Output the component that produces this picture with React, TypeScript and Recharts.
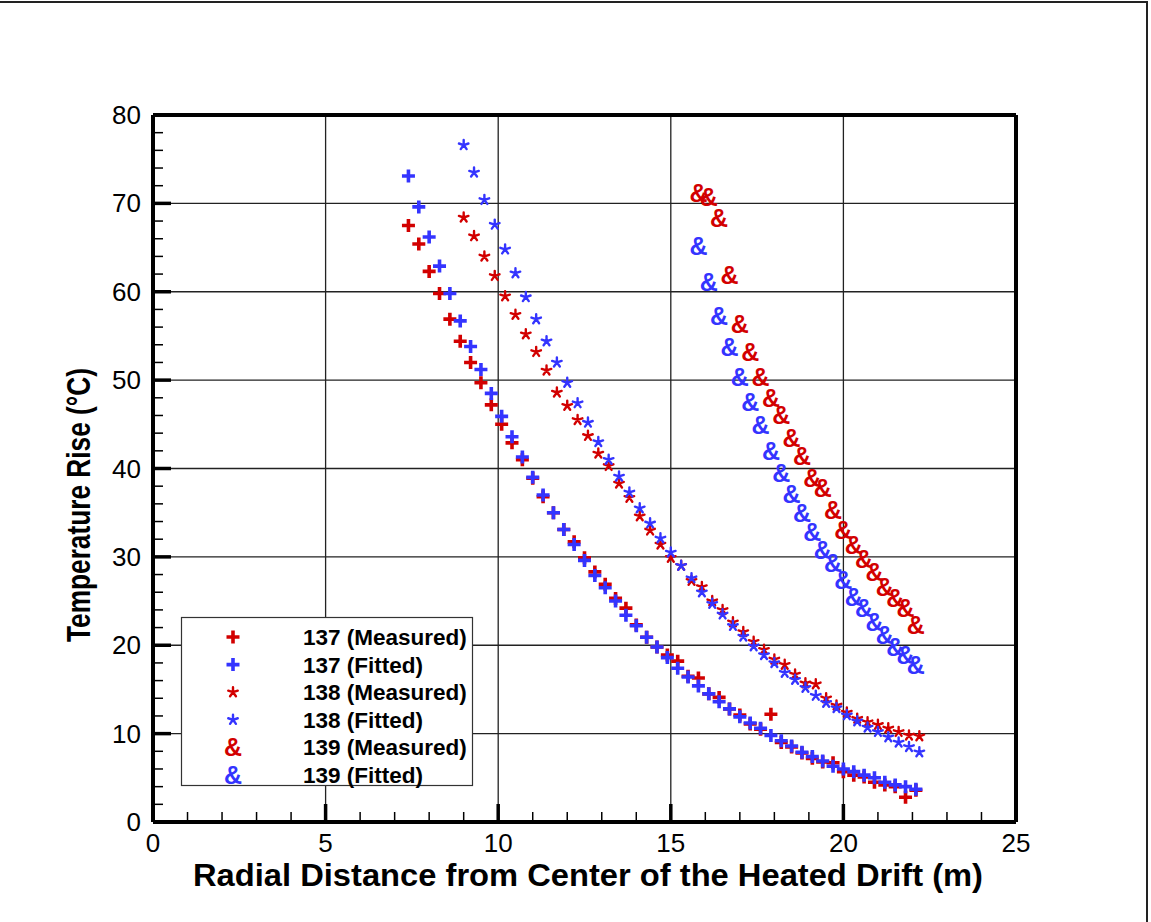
import React from 'react';
import {
  ScatterChart,
  Scatter,
  XAxis,
  YAxis,
  ReferenceLine,
  Legend,
  Label,
} from 'recharts';

const FONT = '"Liberation Sans", Arial, Helvetica, sans-serif';
const RED = '#d20000';
const BLUE = '#3434ff';

// x positions (m)
const xPlus = [
  7.4, 7.7, 8.0, 8.3, 8.6, 8.9, 9.2, 9.5, 9.8, 10.1, 10.4, 10.7, 11.0, 11.3, 11.6, 11.9, 12.2,
  12.5, 12.8, 13.1, 13.4, 13.7, 14.0, 14.3, 14.6, 14.9, 15.2, 15.5, 15.8, 16.1, 16.4, 16.7,
  17.0, 17.3, 17.6, 17.9, 18.2, 18.5, 18.8, 19.1, 19.4, 19.7, 20.0, 20.3, 20.6, 20.9, 21.2,
  21.5, 21.8, 22.1,
];
const xStar = [
  9.0, 9.3, 9.6, 9.9, 10.2, 10.5, 10.8, 11.1, 11.4, 11.7, 12.0, 12.3, 12.6, 12.9, 13.2, 13.5,
  13.8, 14.1, 14.4, 14.7, 15.0, 15.3, 15.6, 15.9, 16.2, 16.5, 16.8, 17.1, 17.4, 17.7, 18.0,
  18.3, 18.6, 18.9, 19.2, 19.5, 19.8, 20.1, 20.4, 20.7, 21.0, 21.3, 21.6, 21.9, 22.2,
];
const xAmp = [
  15.8, 16.1, 16.4, 16.7, 17.0, 17.3, 17.6, 17.9, 18.2, 18.5, 18.8, 19.1, 19.4, 19.7, 20.0,
  20.3, 20.6, 20.9, 21.2, 21.5, 21.8, 22.1,
];

// temperature rise (C)
const measured137 = [
  67.5, 65.4, 62.3, 59.8, 56.9, 54.4, 52.0, 49.7, 47.2, 45.0,
  42.9, 41.0, 38.9, 36.8, 35.0, 33.1, 31.7, 29.9, 28.3, 26.9,
  25.3, 24.2, 22.3, 20.9, 19.8, 18.9, 18.2, 16.5, 16.3, 14.5,
  14.1, 12.8, 12.1, 11.1, 10.5, 12.2, 9.0, 8.5, 7.8, 7.2,
  6.8, 6.7, 5.7, 5.3, 5.1, 4.5, 4.2, 4.0, 2.8, 3.6,
];
const fitted137 = [
  73.1, 69.6, 66.2, 62.9, 59.8, 56.7, 53.8, 51.2, 48.5, 45.9,
  43.6, 41.3, 39.0, 37.0, 35.0, 33.1, 31.4, 29.6, 27.9, 26.5,
  25.0, 23.4, 22.2, 20.9, 19.8, 18.6, 17.4, 16.4, 15.4, 14.5,
  13.6, 12.8, 11.9, 11.2, 10.6, 9.8, 9.2, 8.6, 7.9, 7.4,
  6.9, 6.3, 6.0, 5.7, 5.3, 5.0, 4.5, 4.2, 4.0, 3.7,
];
const measured138 = [
  68.4, 66.3, 64.0, 61.8, 59.5, 57.4, 55.2, 53.2, 51.1, 48.6,
  47.1, 45.5, 43.7, 41.7, 40.3, 38.3, 36.7, 34.6, 33.0, 31.4,
  29.9, 29.0, 27.3, 26.6, 25.0, 24.0, 22.6, 21.5, 20.4, 19.5,
  18.4, 17.8, 16.7, 15.7, 15.6, 14.0, 13.2, 12.4, 11.7, 11.3,
  11.0, 10.6, 10.2, 9.8, 9.7,
];
const fitted138 = [
  76.6, 73.5, 70.4, 67.6, 64.8, 62.1, 59.4, 56.9, 54.4, 52.0,
  49.7, 47.4, 45.2, 43.0, 41.0, 39.1, 37.3, 35.5, 33.8, 32.1,
  30.5, 29.0, 27.6, 26.0, 24.7, 23.5, 22.2, 21.0, 19.9, 18.9,
  18.0, 16.9, 16.1, 15.2, 14.3, 13.5, 12.9, 12.1, 11.4, 10.7,
  10.2, 9.6, 9.0, 8.5, 7.9,
];
const measured139 = [
  71.2, 70.7, 68.3, 61.9, 56.4, 53.2, 50.3, 48.0, 46.0, 43.4, 41.4,
  38.9, 37.8, 35.3, 33.0, 31.3, 29.8, 28.3, 26.6, 25.3, 24.2, 22.3,
];
const fitted139 = [
  65.2, 61.1, 57.2, 53.7, 50.3, 47.5, 44.9, 42.0, 39.5, 37.1, 35.0,
  32.8, 30.8, 29.3, 27.4, 25.5, 24.2, 22.6, 21.2, 19.8, 18.9, 17.8,
];

const xTicks = [0, 1, 2, 3, 4, 5, 6, 7, 8, 9, 10, 11, 12, 13, 14, 15, 16, 17, 18, 19, 20, 21, 22, 23, 24, 25];
const yTicks = [0, 2, 4, 6, 8, 10, 12, 14, 16, 18, 20, 22, 24, 26, 28, 30, 32, 34, 36, 38, 40, 42, 44, 46, 48, 50, 52, 54, 56, 58, 60, 62, 64, 66, 68, 70, 72, 74, 76, 78, 80];
const xGrid = [5, 10, 15, 20];
const yGrid = [10, 20, 30, 40, 50, 60, 70];

const toPoints = (xs: number[], ys: number[]) => ys.map((y, i) => ({ x: xs[i], y }));

type Kind = 'plus' | 'star' | 'amp';

const series: { name: string; kind: Kind; color: string; data: { x: number; y: number }[] }[] = [
  { name: '137 (Measured)', kind: 'plus', color: RED, data: toPoints(xPlus, measured137) },
  { name: '137 (Fitted)', kind: 'plus', color: BLUE, data: toPoints(xPlus, fitted137) },
  { name: '138 (Measured)', kind: 'star', color: RED, data: toPoints(xStar, measured138) },
  { name: '138 (Fitted)', kind: 'star', color: BLUE, data: toPoints(xStar, fitted138) },
  { name: '139 (Measured)', kind: 'amp', color: RED, data: toPoints(xAmp, measured139) },
  { name: '139 (Fitted)', kind: 'amp', color: BLUE, data: toPoints(xAmp, fitted139) },
];

const Mark = ({ kind, cx, cy, color }: { kind: Kind; cx: number; cy: number; color: string }) => {
  if (cx == null || cy == null) return null;
  if (kind === 'plus') {
    return (
      <path
        d={`M${cx - 6.5},${cy}H${cx + 6.5}M${cx},${cy - 6.5}V${cy + 6.5}`}
        stroke={color}
        strokeWidth={3.6}
        fill="none"
      />
    );
  }
  if (kind === 'star') {
    let d = '';
    for (let k = 0; k < 5; k++) {
      const a = ((-90 + 72 * k) * Math.PI) / 180;
      d += `M${cx},${cy}L${cx + 5 * Math.cos(a)},${cy + 5 * Math.sin(a)}`;
    }
    return <path d={d} stroke={color} strokeWidth={2.4} strokeLinecap="round" fill="none" />;
  }
  return (
    <text
      x={cx}
      y={cy + 9}
      textAnchor="middle"
      fontFamily={FONT}
      fontWeight="bold"
      fontSize={25}
      fill={color}
    >
      &amp;
    </text>
  );
};

const XTick = ({ x, y, payload }: any) => {
  const v = payload.value;
  const major = v % 5 === 0;
  return (
    <g>
      {v > 0 && v < 25 && (
        <line x1={x} x2={x} y1={y} y2={y - (major ? 18 : 10)} stroke="#000" strokeWidth={major ? 3.5 : 1.5} />
      )}
      {major && (
        <text x={x} y={y + 30} textAnchor="middle" fontFamily={FONT} fontSize={26} fill="#000">
          {v}
        </text>
      )}
    </g>
  );
};

const YTick = ({ x, y, payload }: any) => {
  const v = payload.value;
  const major = v % 10 === 0;
  return (
    <g>
      {v > 0 && v < 80 && (
        <line x1={x} x2={x + (major ? 18 : 10)} y1={y} y2={y} stroke="#000" strokeWidth={major ? 3.5 : 1.5} />
      )}
      {major && (
        <text x={x - 12} y={y + 9} textAnchor="end" fontFamily={FONT} fontSize={26} fill="#000">
          {v}
        </text>
      )}
    </g>
  );
};

const renderLegend = () => (
  <svg width={292} height={169} style={{ display: 'block', overflow: 'visible' }}>
    <rect x={0.5} y={0.5} width={291} height={168} fill="#fff" stroke="#333" strokeWidth={1.2} />
    {series.map((s, i) => {
      const cy = 20 + i * 27.6;
      return (
        <g key={s.name}>
          <Mark kind={s.kind} cx={52} cy={cy} color={s.color} />
          <text x={122} y={cy + 8} fontFamily={FONT} fontWeight="bold" fontSize={22.5} fill="#000">
            {s.name}
          </text>
        </g>
      );
    })}
  </svg>
);

const xLabel = (props: any) => {
  const { viewBox } = props;
  return (
    <text
      x={588}
      y={viewBox.y + 64}
      textAnchor="middle"
      fontFamily={FONT}
      fontWeight="bold"
      fontSize={32}
      textLength={790}
      lengthAdjust="spacingAndGlyphs"
      fill="#000"
    >
      Radial Distance from Center of the Heated Drift (m)
    </text>
  );
};

const yLabel = () => (
  <text
    x={0}
    y={0}
    transform="translate(90,505) rotate(-90)"
    textAnchor="middle"
    fontFamily={FONT}
    fontWeight="bold"
    fontSize={34}
    textLength={274}
    lengthAdjust="spacingAndGlyphs"
    fill="#000"
  >
    Temperature Rise (°C)
  </text>
);

export default function App() {
  return (
    <div style={{ position: 'absolute', left: 0, top: 0, width: 1151, height: 922, background: '#fff' }}>
      <div
        style={{
          position: 'absolute',
          left: 0,
          top: 1,
          width: 1146,
          height: 921,
          borderTop: '2px solid #222',
          borderRight: '2px solid #222',
          pointerEvents: 'none',
        }}
      />
      <ScatterChart width={1151} height={922} margin={{ top: 115, right: 135, bottom: 60, left: 93 }}>
        <XAxis
          type="number"
          dataKey="x"
          domain={[0, 25]}
          ticks={xTicks}
          interval={0}
          height={40}
          tickSize={0}
          tickMargin={0}
          tick={<XTick />}
          axisLine={{ stroke: '#000', strokeWidth: 4 }}
        >
          <Label content={xLabel} />
        </XAxis>
        <YAxis
          type="number"
          dataKey="y"
          domain={[0, 80]}
          ticks={yTicks}
          interval={0}
          width={60}
          tickSize={0}
          tickMargin={0}
          tick={<YTick />}
          axisLine={{ stroke: '#000', strokeWidth: 4 }}
        >
          <Label content={yLabel} />
        </YAxis>
        {xGrid.map((v) => (
          <ReferenceLine key={'gx' + v} x={v} stroke="#222" strokeWidth={1.3} />
        ))}
        {yGrid.map((v) => (
          <ReferenceLine key={'gy' + v} y={v} stroke="#222" strokeWidth={1.3} />
        ))}
        <ReferenceLine x={25} stroke="#000" strokeWidth={4} />
        <ReferenceLine y={80} stroke="#000" strokeWidth={4} />
        {series.map((s) => (
          <Scatter
            key={s.name}
            name={s.name}
            data={s.data}
            fill={s.color}
            isAnimationActive={false}
            shape={(p: any) => <Mark kind={s.kind} cx={p.cx} cy={p.cy} color={s.color} />}
          />
        ))}
        <Legend
          layout="vertical"
          verticalAlign="middle"
          align="center"
          content={renderLegend}
          wrapperStyle={{ left: 181, top: 617, width: 292, height: 169 }}
        />
      </ScatterChart>
    </div>
  );
}
